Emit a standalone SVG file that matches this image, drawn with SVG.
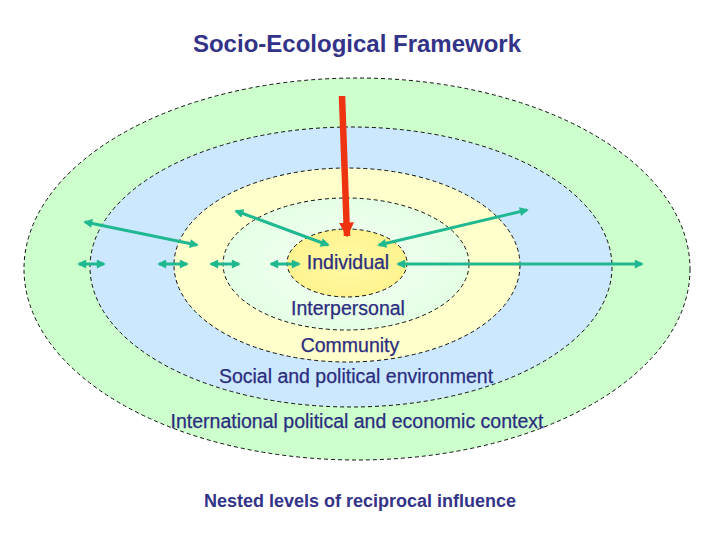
<svg xmlns="http://www.w3.org/2000/svg" width="720" height="540" viewBox="0 0 720 540">
  <style>
    .ring { stroke: #111; stroke-width: 1; stroke-dasharray: 4 3; }
    .lbl { font-family: "Liberation Sans", Arial, sans-serif; font-size: 19.5px; fill: #2b2d7e; text-anchor: middle; stroke: #2b2d7e; stroke-width: 0.25; }
    .title { font-family: "Liberation Sans", Arial, sans-serif; font-size: 24px; font-weight: bold; fill: #333388; text-anchor: middle; }
    .foot { font-family: "Liberation Sans", Arial, sans-serif; font-size: 18px; font-weight: bold; fill: #333388; text-anchor: middle; }
    .teal { stroke: #20b890; stroke-width: 3; fill: none; marker-start: url(#th); marker-end: url(#th); }
  </style>
  <defs>
    <marker id="th" viewBox="0 0 10 10" refX="8" refY="5" markerUnits="userSpaceOnUse" markerWidth="10" markerHeight="9" orient="auto-start-reverse">
      <path d="M0,0 L10,5 L0,10 z" fill="#20b890"/>
    </marker>
    <marker id="rh" viewBox="0 0 10 10" refX="9" refY="5" markerUnits="userSpaceOnUse" markerWidth="15" markerHeight="16" orient="auto">
      <path d="M0,0 L10,5 L0,10 z" fill="#ee3311"/>
    </marker>
    <radialGradient id="gInter" cx="0.5" cy="0.5" r="0.5">
      <stop offset="0" stop-color="#f6fff6"/>
      <stop offset="1" stop-color="#e4ffe4"/>
    </radialGradient>
    <radialGradient id="gInd" cx="0.5" cy="0.5" r="0.5">
      <stop offset="0" stop-color="#fffaa6"/>
      <stop offset="1" stop-color="#fff38f"/>
    </radialGradient>
  </defs>

  <text class="title" x="357" y="52">Socio-Ecological Framework</text>

  <g id="international">
    <ellipse class="ring" cx="357" cy="269" rx="333" ry="191" fill="#ccffcc"/>
  </g>
  <g id="social">
    <ellipse class="ring" cx="351" cy="267" rx="261" ry="140" fill="#cce8ff"/>
  </g>
  <g id="community">
    <ellipse class="ring" cx="347" cy="265" rx="173" ry="97" fill="#ffffcc"/>
  </g>
  <g id="interpersonal">
    <ellipse class="ring" cx="346" cy="264" rx="123" ry="66" fill="url(#gInter)"/>
  </g>
  <g id="individual">
    <ellipse class="ring" cx="347" cy="263" rx="60" ry="34" fill="url(#gInd)"/>
    <text class="lbl" x="348" y="269">Individual</text>
  </g>

  <g id="labels">
    <text class="lbl" x="348" y="315">Interpersonal</text>
    <text class="lbl" x="350" y="352">Community</text>
    <text class="lbl" x="356" y="383">Social and political environment</text>
    <text class="lbl" x="357" y="428">International political and economic context</text>
  </g>

  <g id="connectors">
    <line x1="342" y1="96" x2="347" y2="236" stroke="#ee3311" stroke-width="6.5" marker-end="url(#rh)"/>
    <line class="teal" x1="85" y1="222" x2="197" y2="245"/>
    <line class="teal" x1="236" y1="211" x2="328" y2="245"/>
    <line class="teal" x1="379" y1="245" x2="527" y2="210"/>
    <line class="teal" x1="79" y1="264" x2="104" y2="264"/>
    <line class="teal" x1="159" y1="264" x2="187" y2="264"/>
    <line class="teal" x1="211" y1="264" x2="239" y2="264"/>
    <line class="teal" x1="271" y1="264" x2="299" y2="264"/>
    <line class="teal" x1="398" y1="264" x2="642" y2="264"/>
  </g>

  <text class="foot" x="360" y="507">Nested levels of reciprocal influence</text>
</svg>
